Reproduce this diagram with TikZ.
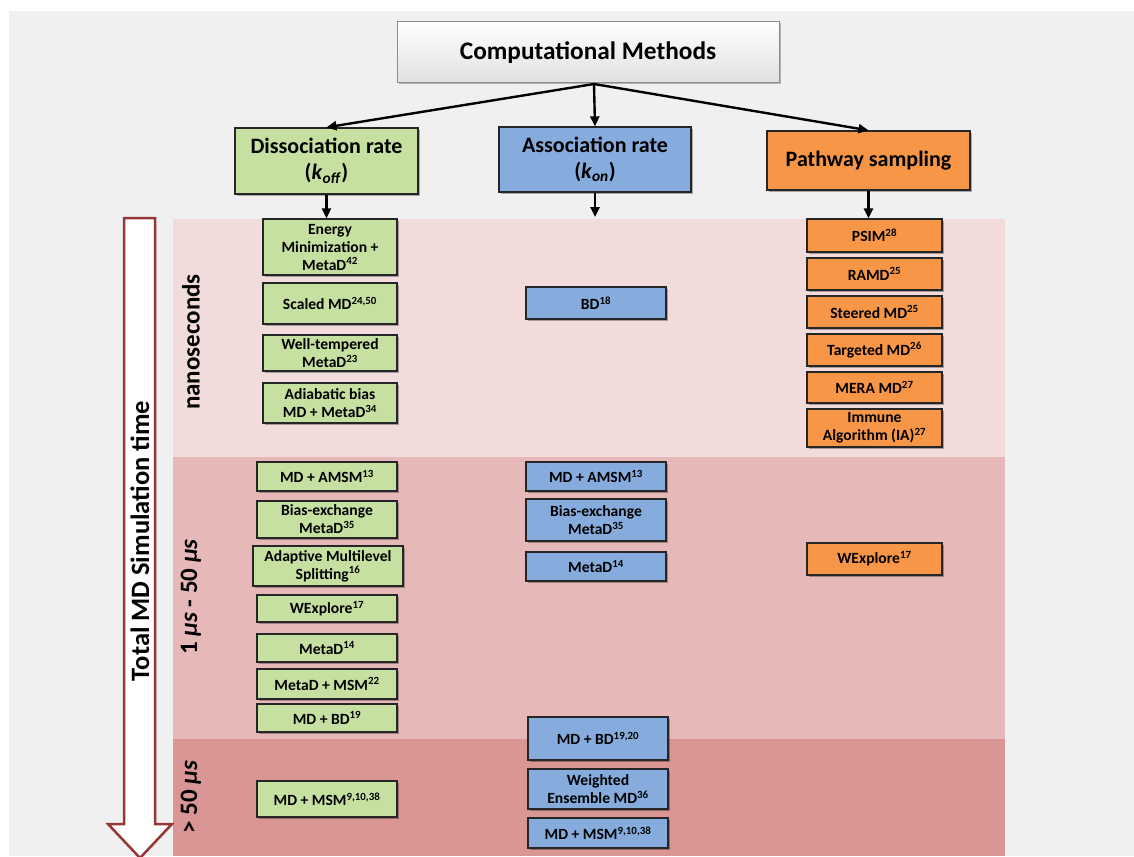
\documentclass[tikz,border=0pt]{standalone}
\usepackage{fontspec}
\setmainfont{Carlito}
\usetikzlibrary{arrows.meta,shadows}
\definecolor{bgc}{RGB}{240,240,240}
\definecolor{bandA}{RGB}{242,220,219}
\definecolor{bandB}{RGB}{230,185,184}
\definecolor{bandC}{RGB}{217,150,148}
\definecolor{gcol}{RGB}{197,224,160}
\definecolor{bcol}{RGB}{134,172,222}
\definecolor{ocol}{RGB}{247,150,70}
\definecolor{redarrow}{RGB}{149,55,53}
\tikzset{
  box/.style={draw=black!85, line width=1.3pt, align=center, inner sep=0pt,
    font=\bfseries\fontsize{15.6}{18}\selectfont,
    drop shadow={shadow xshift=1.5pt, shadow yshift=-1.5pt, opacity=0.3, fill=black}},
  gbox/.style={box, fill=gcol},
  bbox/.style={box, fill=bcol},
  obox/.style={box, fill=ocol},
  hdr/.style={box, font=\bfseries\fontsize{22}{26}\selectfont},
  arr/.style={line width=2.4pt, -{Triangle[length=10pt,width=9pt]}},
  side/.style={rotate=90, font=\bfseries\fontsize{25}{29}\selectfont}
}
\begin{document}
\begin{tikzpicture}[x=1pt,y=-1pt]
\useasboundingbox (0,0) rectangle (1134,856);
\fill[bgc] (9,11) rectangle (1134,856);
% bands
\fill[bandA] (173,219) rectangle (1005,457);
\fill[bandB] (173,457) rectangle (1005,739);
\fill[bandC] (173,739) rectangle (1005,856);
% big time arrow
\draw[redarrow, line width=2.5pt, fill=white, line join=miter]
  (124,218) -- (155,218) -- (155,824) -- (172,824) -- (140,858) -- (108,824) -- (124,824) -- cycle;
\node[side, font=\bfseries\fontsize{26.5}{30}\selectfont] (total) at (140,541) {Total MD Simulation time};
\node[side] (ns) at (191,342) {nanoseconds};
\node[side] (us1) at (191,597) {1 \textit{µs} - 50 \textit{µs}};
\node[side] (us2) at (191,797) {> 50 \textit{µs}};

% title
\node[draw=black!45, line width=1pt, top color=white, bottom color=black!12,
  minimum width=382pt, minimum height=61pt, inner sep=0pt,
  font=\bfseries\fontsize{25.3}{30}\selectfont,
  drop shadow={shadow xshift=1.5pt, shadow yshift=-1.5pt, opacity=0.25, fill=black}]
  (title) at (588,52.5) {Computational Methods};

% headers
\node[hdr, fill=gcol, minimum width=183pt, minimum height=66pt] (diss) at (326.5,161)
  {Dissociation rate\\(\textit{k}\textsubscript{\textit{off}})};
\node[hdr, fill=bcol, minimum width=192pt, minimum height=65pt] (assoc) at (595,159.5)
  {Association rate\\(\textit{k}\textsubscript{\textit{on}})};
\node[hdr, fill=ocol, minimum width=203pt, minimum height=59pt] (path) at (868.5,160.5)
  {Pathway sampling};

% left column
\node[gbox, minimum width=134pt, minimum height=56pt] (e1) at (330,247) {Energy\\Minimization +\\MetaD\textsuperscript{42}};
\node[gbox, minimum width=134pt, minimum height=41pt] (e2) at (330,303.5) {Scaled MD\textsuperscript{24,50}};
\node[gbox, minimum width=134pt, minimum height=36pt] (e3) at (330,353) {Well-tempered\\MetaD\textsuperscript{23}};
\node[gbox, minimum width=134pt, minimum height=40pt] (e4) at (330,403) {Adiabatic bias\\MD + MetaD\textsuperscript{34}};
\node[gbox, minimum width=140pt, minimum height=29pt] (e5) at (327,476.5) {MD + AMSM\textsuperscript{13}};
\node[gbox, minimum width=140pt, minimum height=37pt] (e6) at (327,519.5) {Bias-exchange\\MetaD\textsuperscript{35}};
\node[gbox, minimum width=150pt, minimum height=40pt] (e7) at (328,566) {Adaptive Multilevel\\Splitting\textsuperscript{16}};
\node[gbox, minimum width=140pt, minimum height=27pt] (e8) at (327,608.5) {WExplore\textsuperscript{17}};
\node[gbox, minimum width=140pt, minimum height=28pt] (e9) at (327,648) {MetaD\textsuperscript{14}};
\node[gbox, minimum width=140pt, minimum height=30pt] (e10) at (327,684) {MetaD + MSM\textsuperscript{22}};
\node[gbox, minimum width=140pt, minimum height=28pt] (e11) at (327,718) {MD + BD\textsuperscript{19}};
\node[gbox, minimum width=140pt, minimum height=36pt] (e12) at (327,799) {MD + MSM\textsuperscript{9,10,38}};

% middle column
\node[bbox, minimum width=140pt, minimum height=32pt] (a1) at (596,303) {BD\textsuperscript{18}};
\node[bbox, minimum width=140pt, minimum height=29pt] (a2) at (596,476.5) {MD + AMSM\textsuperscript{13}};
\node[bbox, minimum width=140pt, minimum height=42pt] (a3) at (596,520) {Bias-exchange\\MetaD\textsuperscript{35}};
\node[bbox, minimum width=140pt, minimum height=29pt] (a4) at (596,566.5) {MetaD\textsuperscript{14}};
\node[bbox, line width=2.6pt, minimum width=140pt, minimum height=43pt] (a5) at (598,738.5) {MD + BD\textsuperscript{19,20}};
\node[bbox, minimum width=140pt, minimum height=40pt] (a6) at (598,789) {Weighted\\Ensemble MD\textsuperscript{36}};
\node[bbox, minimum width=140pt, minimum height=30pt] (a7) at (598,833) {MD + MSM\textsuperscript{9,10,38}};

% right column
\node[obox, minimum width=135pt, minimum height=33pt] (p1) at (874.5,235.5) {PSIM\textsuperscript{28}};
\node[obox, minimum width=135pt, minimum height=32pt] (p2) at (874.5,274) {RAMD\textsuperscript{25}};
\node[obox, minimum width=135pt, minimum height=32pt] (p3) at (874.5,312) {Steered MD\textsuperscript{25}};
\node[obox, minimum width=135pt, minimum height=32pt] (p4) at (874.5,350) {Targeted MD\textsuperscript{26}};
\node[obox, minimum width=135pt, minimum height=31pt] (p5) at (874.5,387.5) {MERA MD\textsuperscript{27}};
\node[obox, minimum width=135pt, minimum height=38pt] (p6) at (874.5,428) {Immune\\Algorithm (IA)\textsuperscript{27}};
\node[obox, minimum width=135pt, minimum height=32pt] (p7) at (874.5,559) {WExplore\textsuperscript{17}};

% connectors
\coordinate (split) at (594,84);
\coordinate (amid) at (595,217);
\draw[arr] (split) -- (diss.north);
\draw[arr] (split) -- (assoc.north);
\draw[arr] (split) -- (path.north);
\draw[arr] (diss.south) -- (diss.south |- e1.north);
\draw[arr] (assoc.south) -- (amid);
\draw[arr] (path.south) -- (path.south |- p1.north);
\end{tikzpicture}
\end{document}
